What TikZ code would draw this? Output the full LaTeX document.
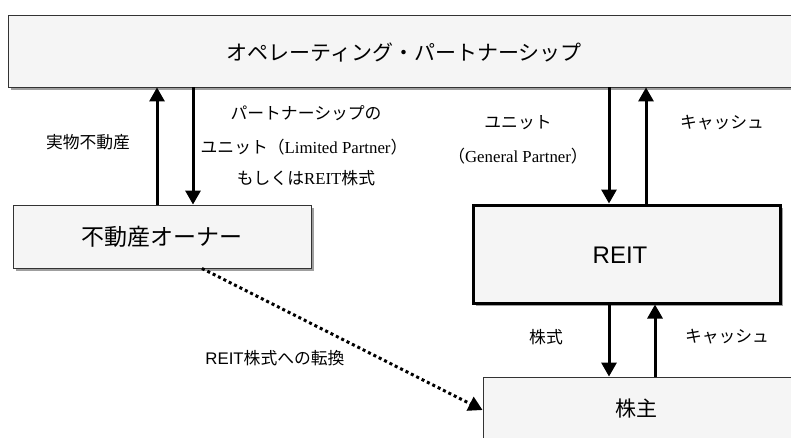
\documentclass[tikz,border=0pt]{standalone}
\usepackage{fontspec}
\setmainfont{Noto Sans CJK JP}
\newfontfamily\lsans{Liberation Sans}
\newfontfamily\lserif{Liberation Serif}
\usetikzlibrary{arrows.meta,shadows}
\begin{document}
\begin{tikzpicture}[x=1pt,y=-1pt,
  box/.style={draw=black!80, line width=0.9pt, fill=gray!8, inner sep=0pt,
    drop shadow={shadow xshift=3pt, shadow yshift=-3pt, fill=gray!75, opacity=1}},
  bigtxt/.style={font=\fontsize{21}{25}\selectfont, inner sep=0pt},
  smalltxt/.style={font=\fontsize{16.8}{19}\selectfont, inner sep=0pt},
  arr/.style={line width=3pt, -{Triangle[width=15pt,length=14pt]}},
  dotarr/.style={line width=3pt, dash pattern=on 3pt off 3pt, -{Triangle[width=15pt,length=14pt]}},
]
\useasboundingbox (0,0) rectangle (791,437);
\clip (0,0) rectangle (791,437);

% boxes
\node[box, minimum width=792pt, minimum height=72pt] (op) at (404,51) {};
\node[bigtxt] (optxt) at (404,52) {オペレーティング・パートナーシップ};

\node[box, minimum width=298pt, minimum height=63pt, bigtxt, font=\fontsize{23}{27}\selectfont] (owner) at (162,236.5) {不動産オーナー};

\node[box, draw=black, line width=3pt, minimum width=307pt, minimum height=98pt] (reit) at (626.5,254) {};
\node[font=\lsans\fontsize{24}{28}\selectfont, inner sep=0pt] (reittxt) at (620,255) {REIT};

\node[box, minimum width=317pt, minimum height=83pt] (holder) at (641.5,418.5) {};
\node[bigtxt] (holdertxt) at (636,408) {株主};

% left arrows
\coordinate (a1) at ([xshift=-5pt]owner.north);
\coordinate (a2) at ([xshift=31pt]owner.north);
\draw[arr] (a1) -- (a1 |- op.south);
\draw[arr] (a2 |- op.south) -- (a2);

% right top arrows
\coordinate (b1) at ([xshift=-17.5pt]reit.north);
\coordinate (b2) at ([xshift=19.5pt]reit.north);
\draw[arr] (b1 |- op.south) -- (b1);
\draw[arr] (b2) -- (b2 |- op.south);

% bottom arrows
\coordinate (c1) at ([xshift=-17.5pt]reit.south);
\coordinate (c2) at ([xshift=28.5pt]reit.south);
\draw[arr] (c1) -- (c1 |- holder.north);
\draw[arr] (c2 |- holder.north) -- (c2);

% dotted conversion arrow
\coordinate (d1) at ([xshift=40pt]owner.south);
\coordinate (d2) at ([yshift=8.5pt]holder.west);
\draw[dotarr] (d1) -- (d2);

% labels
\node[smalltxt] (l1) at (88,142) {実物不動産};
\node[smalltxt] (l2) at (306,113) {パートナーシップの};
\node[smalltxt] (l3) at (304,147) {ユニット（{\lserif Limited Partner}）};
\node[smalltxt] (l4) at (306,178) {もしくは{\lserif REIT}株式};
\node[smalltxt] (l5) at (518,123) {ユニット};
\node[smalltxt] (l6) at (518,156) {（{\lserif General Partner}）};
\node[smalltxt] (l7) at (722,123) {キャッシュ};
\node[smalltxt] (l8) at (546,337) {株式};
\node[smalltxt] (l9) at (727,337) {キャッシュ};
\node[smalltxt] (l10) at (275,358) {{\lsans REIT}株式への転換};
\end{tikzpicture}
\end{document}
